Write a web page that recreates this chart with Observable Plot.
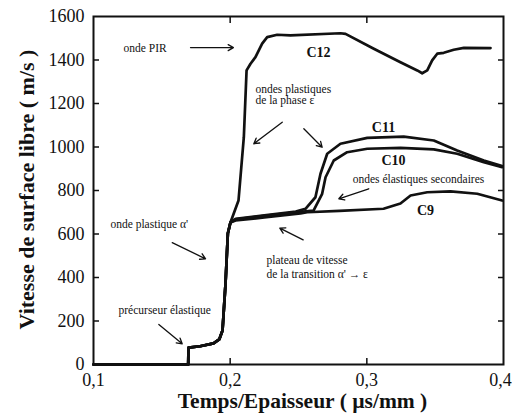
<!DOCTYPE html>
<html><head><meta charset="utf-8">
<script src="https://cdn.jsdelivr.net/npm/d3@7"></script>
<script src="https://cdn.jsdelivr.net/npm/@observablehq/plot@0.6"></script>
<style>body{margin:0;background:#fff} svg text{font-family:"Liberation Serif",serif}</style>
</head><body><div id="chart"></div>
<script>
const xTicks = [0.1, 0.2, 0.3];
const xLastTick = [0.4];
const yTicks = [0, 200, 400, 600, 800, 1000, 1200, 1400, 1600];
const xInnerTicks = [0.2, 0.3];
const yInnerTicks = [200, 400, 600, 800, 1000, 1200, 1400];

// shared start (précurseur + onde plastique α')
const commonT = [0.100, 0.1693, 0.1695, 0.1780, 0.1878, 0.1920, 0.1944, 0.1966, 0.1983, 0.2002];
const commonV = [0, 0, 78, 84, 97, 115, 156, 372, 602, 653];

const c9T  = [0.2040, 0.2250, 0.2515, 0.2564, 0.2800, 0.3122, 0.3246, 0.3320, 0.3442, 0.3612, 0.3808, 0.3990];
const c9V  = [662, 676, 695, 700, 706, 716, 740, 777, 792, 796, 785, 754];
const c10T = [0.2040, 0.2250, 0.2515, 0.2610, 0.2673, 0.2698, 0.2758, 0.2856, 0.3003, 0.3246, 0.3490, 0.3661, 0.3856, 0.3990];
const c10V = [667, 683, 702, 708, 785, 861, 938, 976, 992, 996, 989, 969, 930, 907];
const c11T = [0.2040, 0.2250, 0.2480, 0.2551, 0.2624, 0.2661, 0.2710, 0.2807, 0.3003, 0.3270, 0.3490, 0.3661, 0.3856, 0.3990];
const c11V = [670, 686, 703, 716, 769, 877, 969, 1015, 1042, 1048, 1030, 984, 938, 912];
const c12T = [0.2061, 0.2100, 0.2120, 0.2149, 0.2185, 0.2234, 0.2271, 0.2344, 0.2441, 0.2807, 0.2844, 0.3051, 0.3246, 0.3369, 0.3405, 0.3442, 0.3478, 0.3515, 0.3563, 0.3636, 0.3710, 0.3905];
const c12V = [754, 1045, 1352, 1383, 1413, 1475, 1505, 1516, 1513, 1523, 1520, 1452, 1390, 1352, 1339, 1352, 1398, 1429, 1433, 1447, 1456, 1455];

// curve names
const curveNames = ["C9", "C10", "C11", "C12"];
const curveNameT = [0.3429, 0.3195, 0.3122, 0.2646];
const curveNameV = [708, 938, 1090, 1434];

// annotations (left-aligned)
const noteText = ["onde PIR", "ondes plastiques", "de la phase ε", "onde plastique α'", "précurseur élastique", "plateau de vitesse", "de la transition α' → ε"];
const noteT = [0.1220, 0.2185, 0.2185, 0.1124, 0.1183, 0.2266, 0.2266];
const noteV = [1453, 1264, 1214, 644, 248, 478, 414];
// annotation (centred)
const centerNoteText = ["ondes élastiques secondaires"];
const centerNoteT = [0.3378];
const centerNoteV = [851];

const arrowT1 = [0.1710, 0.2381, 0.2539, 0.3014, 0.1576, 0.1478, 0.2534];
const arrowV1 = [1457, 1114, 1084, 808, 560, 184, 573];
const arrowT2 = [0.2024, 0.2173, 0.2673, 0.2795, 0.1820, 0.1649, 0.2363];
const arrowV2 = [1457, 1015, 999, 762, 486, 95, 627];

const xTitle = "Temps/Epaisseur ( µs/mm )";
const yTitle = "Vitesse de surface libre ( m/s )";

const SERIF = "'Liberation Serif', 'Times New Roman', serif";
const tails = [[c9T, c9V], [c10T, c10V], [c11T, c11V], [c12T, c12V]];
const rows = [];
tails.forEach(([T, V], i) => {
  commonT.forEach((t, j) => rows.push({curve: curveNames[i], t, v: commonV[j]}));
  T.forEach((t, j) => rows.push({curve: curveNames[i], t, v: V[j]}));
});
const names = curveNames.map((n, i) => ({n, t: curveNameT[i], v: curveNameV[i]}));
const notes = noteText.map((s, i) => ({s, t: noteT[i], v: noteV[i]}));
const cnotes = centerNoteText.map((s, i) => ({s, t: centerNoteT[i], v: centerNoteV[i]}));
const arrows = arrowT1.map((t, i) => ({x1: t, y1: arrowV1[i], x2: arrowT2[i], y2: arrowV2[i]}));
const comma = d => String(d).replace(".", ",");

const chart = Plot.plot({
  width: 512, height: 416,
  marginLeft: 93, marginRight: 9, marginTop: 16, marginBottom: 52,
  style: {fontFamily: SERIF, fontSize: "18px", color: "#111", background: "#fff"},
  x: {domain: [0.1, 0.4]},
  y: {domain: [0, 1600]},
  marks: [
    Plot.axisY({anchor: "left", ticks: yTicks, tickSize: 0, tickPadding: 9, tickFormat: d => String(d), label: null, fontSize: 18, fontFamily: SERIF}),
    Plot.axisX({anchor: "bottom", ticks: xTicks, tickSize: 0, tickPadding: 9, tickFormat: comma, label: null, fontSize: 18, fontFamily: SERIF}),
    Plot.axisX({anchor: "bottom", ticks: xLastTick, tickSize: 0, tickPadding: 9, tickFormat: comma, label: null, fontSize: 18, fontFamily: SERIF, dx: -3}),
    Plot.axisY({anchor: "left", ticks: yInnerTicks, tickSize: -6, tickFormat: () => "", label: null, strokeWidth: 1.5}),
    Plot.axisY({anchor: "right", ticks: yInnerTicks, tickSize: -6, tickFormat: () => "", label: null, strokeWidth: 1.5}),
    Plot.axisX({anchor: "bottom", ticks: xInnerTicks, tickSize: -6, tickFormat: () => "", label: null, strokeWidth: 1.5}),
    Plot.axisX({anchor: "top", ticks: xInnerTicks, tickSize: -6, tickFormat: () => "", label: null, strokeWidth: 1.5}),
    Plot.frame({stroke: "#111", strokeWidth: 2}),
    Plot.line(rows, {x: "t", y: "v", z: "curve", stroke: "#111", strokeWidth: 2.7, strokeLinejoin: "round", strokeLinecap: "round"}),
    Plot.arrow(arrows, {x1: "x1", y1: "y1", x2: "x2", y2: "y2", stroke: "#111", strokeWidth: 1.3, headLength: 7}),
    Plot.text(names, {x: "t", y: "v", text: "n", fontWeight: "bold", fontSize: 14, fontFamily: SERIF, fill: "#111"}),
    Plot.text(notes, {x: "t", y: "v", text: "s", textAnchor: "start", fontSize: 11.5, fontFamily: SERIF, fill: "#111"}),
    Plot.text(cnotes, {x: "t", y: "v", text: "s", textAnchor: "middle", fontSize: 11.5, fontFamily: SERIF, fill: "#111"}),
    Plot.text([xTitle], {frameAnchor: "bottom", lineAnchor: "middle", textAnchor: "middle", dy: 37, dx: 4, text: d => d, fontWeight: "bold", fontSize: 21.5, fontFamily: SERIF, fill: "#111"}),
    Plot.text([yTitle], {frameAnchor: "left", lineAnchor: "middle", textAnchor: "middle", dx: -67, dy: -1, rotate: -90, text: d => d, fontWeight: "bold", fontSize: 22, fontFamily: SERIF, fill: "#111"})
  ]
});
document.getElementById("chart").appendChild(chart);
</script>
</body></html>
